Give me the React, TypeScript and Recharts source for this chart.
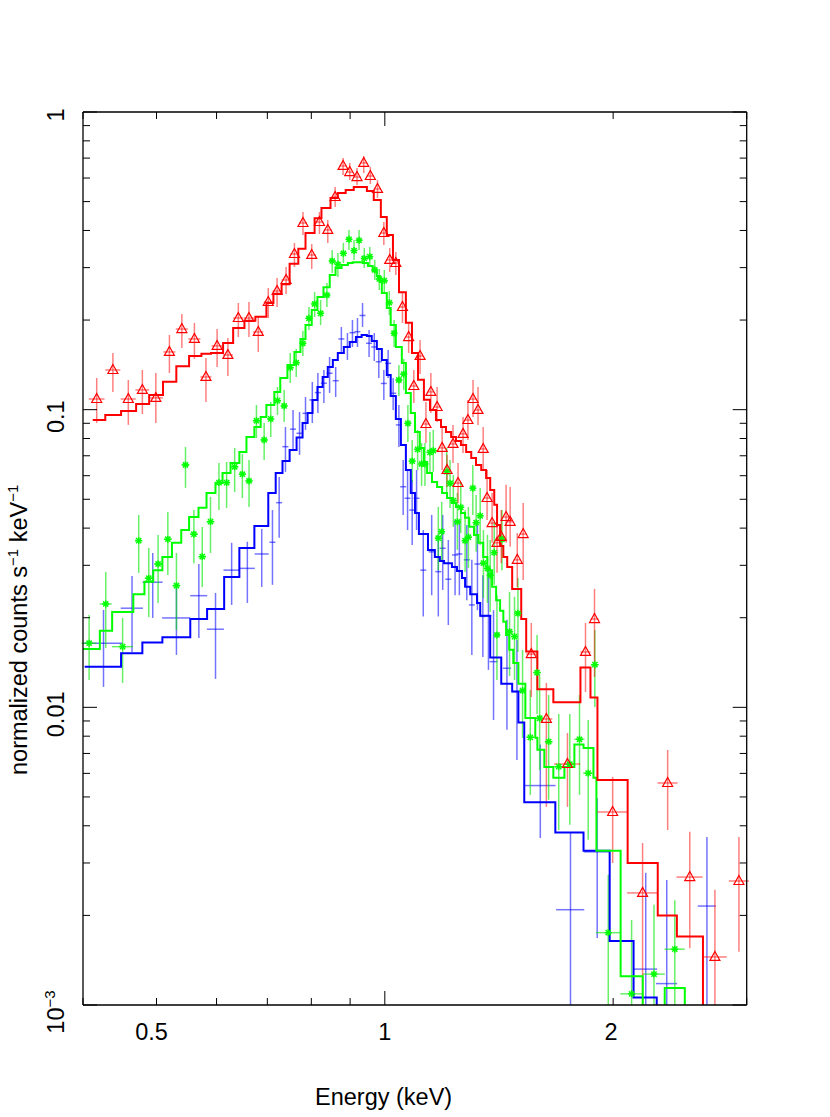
import React from 'react';
import { ComposedChart, Line, Scatter, XAxis, YAxis, ErrorBar, Label } from 'recharts';

// ---------- data ----------
// model step curves: [bin lower edge keV, normalized counts s^-1 keV^-1]
const redModel: [number, number][] = [
  [0.412, 0.0923], [0.428, 0.096], [0.449, 0.099], [0.47, 0.1045], [0.489, 0.112], [0.51, 0.124],
  [0.531, 0.14], [0.552, 0.1515], [0.573, 0.154], [0.59, 0.155], [0.612, 0.1675], [0.631, 0.188],
  [0.653, 0.199], [0.675, 0.205], [0.698, 0.228], [0.713, 0.245], [0.731, 0.264], [0.749, 0.309],
  [0.769, 0.347], [0.786, 0.392], [0.808, 0.44], [0.825, 0.476], [0.848, 0.514], [0.867, 0.534],
  [0.888, 0.547], [0.91, 0.56], [0.932, 0.56], [0.947, 0.543], [0.967, 0.506], [0.988, 0.444],
  [1.006, 0.386], [1.025, 0.318], [1.044, 0.248], [1.066, 0.196], [1.086, 0.155], [1.106, 0.126],
  [1.126, 0.108], [1.147, 0.0998], [1.168, 0.0923], [1.186, 0.0874], [1.204, 0.0842], [1.223, 0.081],
  [1.241, 0.0785], [1.26, 0.0761], [1.28, 0.0721], [1.3, 0.0688], [1.319, 0.0652], [1.34, 0.0627],
  [1.36, 0.059], [1.377, 0.0537], [1.394, 0.0479], [1.406, 0.041], [1.419, 0.0348], [1.433, 0.032],
  [1.45, 0.0296], [1.472, 0.025], [1.513, 0.0198], [1.536, 0.0154], [1.589, 0.0115], [1.668, 0.0104],
  [1.811, 0.0136], [1.867, 0.0108], [1.907, 0.0057], [2.09, 0.003], [2.29, 0.002], [2.427, 0.0017],
  [2.627, 0.0004], [3.0, 0.0004],
];

const greenModel: [number, number][] = [
  [0.4, 0.0157], [0.421, 0.0181], [0.437, 0.0209], [0.466, 0.024], [0.482, 0.0264], [0.495, 0.0289],
  [0.509, 0.032], [0.524, 0.0357], [0.539, 0.0394], [0.552, 0.0436], [0.568, 0.0468], [0.582, 0.0525],
  [0.598, 0.0567], [0.611, 0.0613], [0.626, 0.0662], [0.643, 0.0721], [0.657, 0.081], [0.673, 0.0875],
  [0.686, 0.0945], [0.698, 0.1037], [0.715, 0.1147], [0.728, 0.1278], [0.744, 0.1413], [0.76, 0.1563],
  [0.774, 0.1728], [0.786, 0.1925], [0.801, 0.2162], [0.815, 0.239], [0.83, 0.258], [0.846, 0.2835],
  [0.861, 0.299], [0.877, 0.306], [0.894, 0.311], [0.907, 0.313], [0.924, 0.313], [0.935, 0.311],
  [0.95, 0.304], [0.964, 0.292], [0.976, 0.281], [0.985, 0.2685], [0.991, 0.2466], [1.006, 0.2196],
  [1.018, 0.1925], [1.034, 0.1624], [1.053, 0.1435], [1.066, 0.1138], [1.082, 0.0975], [1.096, 0.0842],
  [1.112, 0.0744], [1.126, 0.0667], [1.137, 0.0613], [1.154, 0.0572], [1.172, 0.055], [1.19, 0.0525],
  [1.208, 0.0505], [1.226, 0.0486], [1.241, 0.0471], [1.26, 0.045], [1.276, 0.0433], [1.292, 0.0404],
  [1.311, 0.0379], [1.328, 0.0357], [1.348, 0.032], [1.365, 0.0289], [1.385, 0.0254], [1.402, 0.0229],
  [1.419, 0.0211], [1.433, 0.0194], [1.445, 0.0175], [1.459, 0.0156], [1.477, 0.0141], [1.5, 0.012],
  [1.532, 0.0092], [1.579, 0.0079], [1.589, 0.0072], [1.623, 0.0063], [1.668, 0.0058], [1.725, 0.0063],
  [1.778, 0.0075], [1.828, 0.0073], [1.884, 0.0058], [1.901, 0.0033], [2.046, 0.00125], [2.188, 0.0008],
  [2.339, 0.00114], [2.486, 0.0008], [3.0, 0.0008],
];

const blueModel: [number, number][] = [
  [0.402, 0.0137], [0.449, 0.0152], [0.479, 0.0165], [0.509, 0.0172], [0.554, 0.0198], [0.583, 0.0214],
  [0.614, 0.0274], [0.643, 0.0343], [0.673, 0.0407], [0.702, 0.0525], [0.718, 0.0613], [0.733, 0.0672],
  [0.749, 0.0732], [0.765, 0.0806], [0.779, 0.0902], [0.791, 0.0975], [0.803, 0.1078], [0.815, 0.1192],
  [0.828, 0.1288], [0.841, 0.1391], [0.854, 0.1469], [0.867, 0.155], [0.883, 0.1624], [0.899, 0.1688],
  [0.916, 0.1754], [0.932, 0.1782], [0.947, 0.1768], [0.961, 0.1701], [0.976, 0.1599], [0.991, 0.1469],
  [1.006, 0.1308], [1.018, 0.1112], [1.034, 0.093], [1.05, 0.0761], [1.066, 0.0627], [1.082, 0.0525],
  [1.096, 0.045], [1.109, 0.0382], [1.14, 0.0338], [1.164, 0.032], [1.182, 0.031], [1.197, 0.0305],
  [1.226, 0.0296], [1.245, 0.0287], [1.264, 0.0272], [1.276, 0.0254], [1.296, 0.024], [1.323, 0.0224],
  [1.336, 0.0203], [1.377, 0.0147], [1.424, 0.012], [1.472, 0.0113], [1.5, 0.0089], [1.527, 0.0048],
  [1.678, 0.0038], [1.828, 0.0033], [1.979, 0.00164], [2.128, 0.00106], [2.283, 0.0005], [3.0, 0.0005],
];

// data points: [energy keV, half bin width keV, value, upper bound, lower bound]
const redPoints: [number, number, number, number, number][] = [
  [0.417, 0.01, 0.1086, 0.1278, 0.0902], [0.438, 0.01, 0.1359, 0.155, 0.1147],
  [0.459, 0.0105, 0.1086, 0.1258, 0.0889], [0.479, 0.01, 0.1165, 0.1359, 0.0967],
  [0.499, 0.0107, 0.1095, 0.1328, 0.0902], [0.52, 0.0095, 0.1563, 0.1782, 0.1328],
  [0.54, 0.0099, 0.1866, 0.2097, 0.1612], [0.561, 0.0103, 0.1728, 0.1956, 0.1481],
  [0.581, 0.0097, 0.1288, 0.1492, 0.1061], [0.601, 0.01, 0.1637, 0.1866, 0.1391],
  [0.621, 0.0095, 0.1527, 0.1741, 0.1298], [0.641, 0.0098, 0.2032, 0.2282, 0.1754],
  [0.662, 0.01, 0.2032, 0.23, 0.1754], [0.681, 0.0104, 0.1824, 0.2048, 0.1563],
  [0.702, 0.0096, 0.23, 0.2564, 0.2032], [0.721, 0.0099, 0.2504, 0.2769, 0.2213],
  [0.741, 0.0102, 0.2727, 0.3015, 0.2446], [0.76, 0.0093, 0.3334, 0.363, 0.3015],
  [0.78, 0.0095, 0.4238, 0.4613, 0.3862], [0.801, 0.0098, 0.3309, 0.3602, 0.2969],
  [0.82, 0.01, 0.4271, 0.4613, 0.3893], [0.841, 0.0103, 0.4015, 0.4337, 0.363],
  [0.86, 0.0092, 0.5181, 0.56, 0.4797], [0.881, 0.0094, 0.6588, 0.7006, 0.6142],
  [0.899, 0.0096, 0.6285, 0.6743, 0.5908], [0.919, 0.0098, 0.6047, 0.6482, 0.5686],
  [0.938, 0.01, 0.6743, 0.7115, 0.6236], [0.957, 0.0102, 0.6095, 0.6532, 0.573],
  [0.978, 0.0104, 0.5514, 0.5908, 0.5143], [0.997, 0.009, 0.3922, 0.4271, 0.3574],
  [1.015, 0.0093, 0.3184, 0.3492, 0.2901], [1.034, 0.0095, 0.311, 0.3386, 0.2835],
  [1.055, 0.0097, 0.2213, 0.2466, 0.1956], [1.075, 0.0098, 0.1754, 0.1971, 0.155],
  [1.092, 0.01, 0.1201, 0.1359, 0.1053], [1.113, 0.01, 0.1515, 0.1714, 0.1318],
  [1.133, 0.0104, 0.0895, 0.1061, 0.0773], [1.15, 0.0105, 0.1147, 0.1328, 0.0975],
  [1.172, 0.0107, 0.1021, 0.1192, 0.0909], [1.19, 0.0109, 0.0744, 0.0868, 0.0627],
  [1.208, 0.011, 0.0627, 0.0705, 0.055], [1.23, 0.0113, 0.0767, 0.0889, 0.0662],
  [1.249, 0.0114, 0.0567, 0.0662, 0.0486], [1.268, 0.0116, 0.0829, 0.0945, 0.0715],
  [1.287, 0.0118, 0.0923, 0.1078, 0.0791], [1.307, 0.012, 0.1086, 0.1258, 0.0945],
  [1.327, 0.0121, 0.0998, 0.1192, 0.0889], [1.348, 0.0123, 0.0738, 0.0875, 0.0627],
  [1.364, 0.0125, 0.0505, 0.0627, 0.0426], [1.385, 0.0127, 0.0416, 0.0525, 0.0357],
  [1.406, 0.0129, 0.0357, 0.0426, 0.0283], [1.424, 0.013, 0.0374, 0.046, 0.0305],
  [1.445, 0.0132, 0.0436, 0.0559, 0.0357], [1.463, 0.0134, 0.042, 0.055, 0.0346],
  [1.495, 0.016, 0.0313, 0.0385, 0.0254], [1.522, 0.0163, 0.0382, 0.0486, 0.0268],
  [1.56, 0.024, 0.0151, 0.0192, 0.01083], [1.633, 0.03, 0.00914, 0.01208, 0.00463],
  [1.741, 0.069, 0.00645, 0.0082, 0.00463], [1.839, 0.028, 0.01535, 0.0192, 0.01126],
  [1.89, 0.023, 0.0198, 0.025, 0.01265], [1.997, 0.091, 0.00445, 0.00584, 0.003],
  [2.187, 0.1, 0.00238, 0.0035, 0.001], [2.36, 0.072, 0.00557, 0.00719, 0.00387],
  [2.524, 0.1, 0.00269, 0.00382, 0.00155], [2.724, 0.1, 0.00145, 0.00244, 0.001],
  [2.93, 0.089, 0.00261, 0.00367, 0.00151],
];

const greenPoints: [number, number, number, number, number][] = [
  [0.4075, 0.0093, 0.01642, 0.02043, 0.01236], [0.4286, 0.0078, 0.02225, 0.0285, 0.01583],
  [0.4511, 0.0144, 0.01599, 0.01997, 0.01208], [0.4737, 0.0051, 0.03631, 0.04428, 0.02828],
  [0.4884, 0.006, 0.02715, 0.0343, 0.02012], [0.5024, 0.0061, 0.03031, 0.03795, 0.02243],
  [0.5175, 0.0063, 0.03671, 0.04532, 0.02784], [0.5312, 0.0065, 0.02564, 0.033, 0.0182],
  [0.546, 0.0067, 0.0652, 0.0749, 0.0546], [0.5601, 0.0068, 0.03815, 0.046, 0.0305],
  [0.5745, 0.007, 0.03208, 0.04036, 0.02538], [0.5891, 0.0072, 0.04205, 0.0509, 0.033],
  [0.6044, 0.0064, 0.0569, 0.0662, 0.046], [0.6186, 0.0066, 0.0569, 0.0667, 0.04675],
  [0.6339, 0.0068, 0.0643, 0.0744, 0.0529], [0.6489, 0.0069, 0.0607, 0.071, 0.0505],
  [0.6622, 0.0071, 0.0576, 0.0678, 0.0471], [0.6772, 0.0072, 0.0918, 0.1037, 0.0803],
  [0.6933, 0.0074, 0.0791, 0.0902, 0.0678], [0.7073, 0.0065, 0.0931, 0.1061, 0.081],
  [0.7219, 0.0066, 0.1072, 0.1192, 0.096], [0.7367, 0.0067, 0.1029, 0.1165, 0.0909],
  [0.7504, 0.0069, 0.1384, 0.155, 0.1229], [0.7642, 0.007, 0.1438, 0.16, 0.1288],
  [0.7797, 0.0071, 0.1671, 0.1838, 0.1515], [0.7942, 0.0073, 0.2028, 0.2213, 0.1852],
  [0.8081, 0.0074, 0.2265, 0.2484, 0.2048], [0.8229, 0.0075, 0.2108, 0.2336, 0.1925],
  [0.8388, 0.0077, 0.2427, 0.2664, 0.2213], [0.8523, 0.0078, 0.3159, 0.3439, 0.2878],
  [0.8673, 0.0079, 0.3079, 0.336, 0.2791], [0.8817, 0.0081, 0.3352, 0.363, 0.311],
  [0.8969, 0.0082, 0.3736, 0.4015, 0.3439], [0.9108, 0.0083, 0.3425, 0.3715, 0.3184],
  [0.9248, 0.0085, 0.3707, 0.4015, 0.3439], [0.9395, 0.0086, 0.3221, 0.3492, 0.2992],
  [0.9554, 0.0087, 0.3266, 0.3519, 0.3015], [0.97, 0.0089, 0.2946, 0.3184, 0.2727],
  [0.9834, 0.009, 0.2748, 0.2969, 0.2524], [0.9985, 0.0091, 0.2712, 0.2946, 0.2484],
  [1.0138, 0.0093, 0.2287, 0.2504, 0.208], [1.0285, 0.0094, 0.1806, 0.2001, 0.1624],
  [1.0436, 0.0095, 0.1258, 0.1413, 0.1112], [1.059, 0.0097, 0.1316, 0.1481, 0.1165],
  [1.0725, 0.0098, 0.09, 0.1037, 0.0779], [1.0866, 0.0099, 0.0672, 0.0791, 0.0572],
  [1.1047, 0.0101, 0.0736, 0.0855, 0.0627], [1.1181, 0.0102, 0.0657, 0.0773, 0.0554],
  [1.1296, 0.0103, 0.0657, 0.0773, 0.0554], [1.1468, 0.0105, 0.0719, 0.0842, 0.0613],
  [1.1585, 0.0106, 0.0728, 0.0855, 0.0618], [1.1763, 0.0108, 0.037, 0.0471, 0.0289],
  [1.1885, 0.0109, 0.0389, 0.049, 0.0308], [1.2067, 0.011, 0.0619, 0.0744, 0.0517],
  [1.219, 0.0112, 0.0566, 0.0678, 0.04675], [1.2312, 0.0113, 0.0495, 0.0603, 0.0404],
  [1.2464, 0.0114, 0.042, 0.0525, 0.0338], [1.2593, 0.0115, 0.047, 0.0572, 0.0385],
  [1.276, 0.0117, 0.0363, 0.046, 0.0285], [1.2889, 0.0118, 0.0373, 0.0471, 0.0294],
  [1.3062, 0.012, 0.0545, 0.0652, 0.0443], [1.3195, 0.0121, 0.0417, 0.0517, 0.0333],
  [1.3357, 0.0122, 0.044, 0.0546, 0.0351], [1.349, 0.0123, 0.0305, 0.0394, 0.0233],
  [1.3656, 0.0125, 0.0293, 0.03795, 0.02243], [1.377, 0.0126, 0.0278, 0.0365, 0.0209],
  [1.3939, 0.0128, 0.0331, 0.042, 0.0258], [1.427, 0.013, 0.0367, 0.046, 0.0289],
  [1.4055, 0.0129, 0.0175, 0.0238, 0.01236], [1.4603, 0.0134, 0.01796, 0.0244, 0.01275],
  [1.4825, 0.0136, 0.01728, 0.0235, 0.01236], [1.498, 0.0137, 0.0207, 0.0272, 0.01535],
  [1.5192, 0.0162, 0.01138, 0.01559, 0.00789], [1.5553, 0.019, 0.00793, 0.01144, 0.00508],
  [1.5875, 0.0194, 0.01308, 0.0175, 0.0095], [1.6, 0.0195, 0.00919, 0.01285, 0.00616],
  [1.6444, 0.02, 0.00767, 0.011, 0.00489], [1.6955, 0.0259, 0.00632, 0.0095, 0.00387],
  [1.7534, 0.0267, 0.00644, 0.0095, 0.00403], [1.8059, 0.0275, 0.00781, 0.011, 0.00508],
  [1.8542, 0.0283, 0.00601, 0.00907, 0.00359], [1.8918, 0.023, 0.01391, 0.0182, 0.01003],
  [1.9706, 0.072, 0.00175, 0.00274, 0.001], [2.1153, 0.071, 0.00109, 0.00193, 0.001],
  [2.264, 0.076, 0.00127, 0.00217, 0.001], [2.4117, 0.074, 0.00154, 0.00225, 0.001],
];

const bluePoints: [number, number, number, number, number][] = [
  [0.4257, 0.0247, 0.01642, 0.02124, 0.01171], [0.4642, 0.0156, 0.02153, 0.02763, 0.01535],
  [0.4943, 0.0151, 0.02632, 0.033, 0.01997], [0.5312, 0.0227, 0.01997, 0.02618, 0.015],
  [0.5686, 0.0147, 0.02372, 0.0303, 0.0171], [0.5981, 0.0155, 0.0183, 0.02423, 0.01246],
  [0.6281, 0.0153, 0.0289, 0.0357, 0.02208], [0.6588, 0.0151, 0.0293, 0.036, 0.02243],
  [0.6882, 0.0147, 0.03275, 0.03975, 0.02538], [0.711, 0.0065, 0.03585, 0.046, 0.0258],
  [0.7256, 0.0066, 0.0487, 0.0594, 0.0371], [0.7396, 0.0068, 0.0751, 0.0875, 0.0618],
  [0.7568, 0.0069, 0.086, 0.0998, 0.0732], [0.7719, 0.0071, 0.0833, 0.0982, 0.0705],
  [0.786, 0.0072, 0.0972, 0.1103, 0.0855], [0.8024, 0.0073, 0.1078, 0.1239, 0.0902],
  [0.8161, 0.0075, 0.1141, 0.1328, 0.0975], [0.8311, 0.0076, 0.1227, 0.1359, 0.1053],
  [0.8456, 0.0077, 0.1325, 0.1503, 0.1138], [0.8614, 0.0079, 0.1251, 0.1391, 0.1103],
  [0.8764, 0.008, 0.1728, 0.1896, 0.155], [0.8927, 0.0082, 0.1628, 0.181, 0.1469],
  [0.9064, 0.0083, 0.1814, 0.2001, 0.1624], [0.9203, 0.0084, 0.1828, 0.2032, 0.1624],
  [0.9346, 0.0086, 0.2072, 0.2282, 0.1896], [0.9533, 0.0087, 0.1671, 0.1852, 0.1503],
  [0.9685, 0.0089, 0.1624, 0.181, 0.1457], [0.9819, 0.009, 0.1449, 0.1612, 0.1278],
  [0.997, 0.0091, 0.1225, 0.1359, 0.1078], [1.0101, 0.0092, 0.1431, 0.1587, 0.1278],
  [1.0256, 0.0094, 0.1135, 0.1278, 0.0998], [1.0436, 0.0095, 0.0889, 0.1037, 0.0749],
  [1.0573, 0.0097, 0.0551, 0.0678, 0.0443], [1.0715, 0.0098, 0.0504, 0.0627, 0.0394],
  [1.0866, 0.0099, 0.046, 0.058, 0.0351], [1.1012, 0.0101, 0.0504, 0.0627, 0.0394],
  [1.1238, 0.0103, 0.0289, 0.0394, 0.0202], [1.1529, 0.0105, 0.0333, 0.0443, 0.0238],
  [1.1763, 0.0108, 0.02856, 0.038, 0.0202], [1.1921, 0.0109, 0.03423, 0.0443, 0.0248],
  [1.2126, 0.0111, 0.02694, 0.0365, 0.0189], [1.2377, 0.0113, 0.0325, 0.0426, 0.0238],
  [1.254, 0.0115, 0.03275, 0.0426, 0.0238], [1.2826, 0.0117, 0.0313, 0.041, 0.0229],
  [1.3023, 0.0119, 0.02208, 0.0313, 0.015], [1.3247, 0.0121, 0.0303, 0.041, 0.0212],
  [1.3466, 0.0123, 0.0202, 0.0278, 0.01477], [1.3697, 0.0125, 0.0203, 0.0289, 0.01336],
  [1.391, 0.017, 0.01424, 0.0212, 0.00907], [1.4488, 0.0177, 0.01353, 0.0197, 0.0084],
  [1.4935, 0.0228, 0.01129, 0.01684, 0.00666], [1.6032, 0.0758, 0.00546, 0.0075, 0.00364],
  [1.7571, 0.075, 0.00209, 0.00378, 0.001], [1.9055, 0.0756, 0.00327, 0.00496, 0.00168],
  [2.208, 0.0775, 0.00132, 0.00278, 0.001], [2.3535, 0.0754, 0.00118, 0.00263, 0.001],
  [2.6588, 0.073, 0.00215, 0.00367, 0.001],
];

const xTicks = [0.4, 0.5, 0.6, 0.7, 0.8, 0.9, 1, 2, 3];
const xTickLabels: Record<string, string> = { '0.5': '0.5', '1': '1', '2': '2' };
const yTicks = [
  0.001, 0.002, 0.003, 0.004, 0.005, 0.006, 0.007, 0.008, 0.009,
  0.01, 0.02, 0.03, 0.04, 0.05, 0.06, 0.07, 0.08, 0.09,
  0.1, 0.2, 0.3, 0.4, 0.5, 0.6, 0.7, 0.8, 0.9, 1,
];
const yTickLabels: Record<string, string> = { '0.01': '0.01', '0.1': '0.1', '1': '1' };
const yDecades = [0.001, 0.01, 0.1, 1];
const xDecades = [1];

// ---------- style ----------
const FONT = "'Liberation Sans', Arial, Helvetica, sans-serif";
const RED = '#ff0000';
const GREEN = '#00ff00';
const BLUE = '#0000ff';
const xLabelShift: Record<string, number> = { '0.5': -5, '1': 0, '2': -2 };

const toModel = (arr: [number, number][]) => arr.map(([e, v]) => ({ e, v }));
const toPoints = (arr: [number, number, number, number, number][]) =>
  arr.map(([e, de, v, hi, lo]) => ({ e, v, ex: de, ey: [v - lo, hi - v] }));

const BottomTick = (p: any) => {
  const { x, y, payload } = p;
  const v = payload.value;
  const len = xDecades.includes(v) ? 14 : 7;
  const t = xTickLabels[String(v)];
  return (
    <g>
      <line x1={x} x2={x} y1={y} y2={y - len} stroke="#000" strokeWidth={1} />
      {t ? (
        <text x={x + (xLabelShift[String(v)] || 0)} y={y + 35} textAnchor="middle" fontFamily={FONT} fontSize={23.5} fill="#000">
          {t}
        </text>
      ) : null}
    </g>
  );
};

const TopTick = (p: any) => {
  const { x, y, payload } = p;
  const len = xDecades.includes(payload.value) ? 14 : 7;
  return <line x1={x} x2={x} y1={y} y2={y + len} stroke="#000" strokeWidth={1} />;
};

const LeftTick = (p: any) => {
  const { x, y, payload } = p;
  const v = payload.value;
  const major = yDecades.includes(v);
  const len = major ? 14 : 7;
  const t = yTickLabels[String(v)];
  const cy = y + (v === 1 ? 3 : 7);
  const lx = 64;
  return (
    <g>
      <line x1={x} x2={x + len} y1={y} y2={y} stroke="#000" strokeWidth={1} />
      {t ? (
        <text x={lx} y={cy} transform={`rotate(-90 ${lx} ${cy})`} textAnchor="middle" fontFamily={FONT} fontSize={23.5} fill="#000">
          {t}
        </text>
      ) : null}
      {v === 0.001 ? (
        <text x={lx} y={cy} transform={`rotate(-90 ${lx} ${cy})`} textAnchor="middle" fontFamily={FONT} fontSize={23.5} fill="#000">
          <tspan>10</tspan>
          <tspan fontSize={15} dy={-9}>−3</tspan>
        </text>
      ) : null}
    </g>
  );
};

const RightTick = (p: any) => {
  const { x, y, payload } = p;
  const len = yDecades.includes(payload.value) ? 14 : 7;
  return <line x1={x} x2={x - len} y1={y} y2={y} stroke="#000" strokeWidth={1} />;
};

const Triangle = (p: any) => {
  const { cx, cy } = p;
  if (cx == null || cy == null || isNaN(cx) || isNaN(cy)) return <g />;
  return (
    <path
      d={`M${cx},${cy - 5.5} L${cx + 5},${cy + 3.5} L${cx - 5},${cy + 3.5} Z`}
      fill="none"
      stroke={RED}
      strokeWidth={1.2}
    />
  );
};

const Asterisk = (p: any) => {
  const { cx, cy } = p;
  if (cx == null || cy == null || isNaN(cx) || isNaN(cy)) return <g />;
  const r = 3.5;
  const d = 2.6;
  return (
    <g stroke={GREEN} strokeWidth={1.5}>
      <line x1={cx - r} x2={cx + r} y1={cy} y2={cy} />
      <line x1={cx} x2={cx} y1={cy - r} y2={cy + r} />
      <line x1={cx - d} x2={cx + d} y1={cy - d} y2={cy + d} />
      <line x1={cx - d} x2={cx + d} y1={cy + d} y2={cy - d} />
    </g>
  );
};

const NoMark = () => <g />;

const XTitle = () => (
  <text x={315} y={1105} fontFamily={FONT} fontSize={23.5} fill="#000">
    Energy (keV)
  </text>
);

const YTitle = () => (
  <text x={27} y={775} transform="rotate(-90 27 775)" fontFamily={FONT} fontSize={23.5} fill="#000">
    <tspan>normalized counts s</tspan>
    <tspan fontSize={15} dy={-9}>−1</tspan>
    <tspan dy={9}> keV</tspan>
    <tspan fontSize={15} dy={-9}>−1</tspan>
  </text>
);

export default function App() {
  const series = [
    { pts: toPoints(bluePoints), model: toModel(blueModel), color: BLUE, bar: 'rgba(0,0,255,0.55)', shape: NoMark, key: 'b' },
    { pts: toPoints(greenPoints), model: toModel(greenModel), color: GREEN, bar: 'rgba(0,230,0,0.6)', shape: Asterisk, key: 'g' },
    { pts: toPoints(redPoints), model: toModel(redModel), color: RED, bar: 'rgba(255,0,0,0.5)', shape: Triangle, key: 'r' },
  ];
  return (
    <div style={{ position: 'absolute', left: 0, top: 0, width: 830, height: 1117, background: '#fff' }}>
      <ComposedChart width={830} height={1117} margin={{ top: 72, right: 43.3, bottom: 72, left: 43 }}>
        <XAxis
          xAxisId="b"
          dataKey="e"
          type="number"
          scale="log"
          domain={[0.4, 3]}
          allowDataOverflow
          ticks={xTicks}
          interval={0}
          orientation="bottom"
          height={40}
          tickSize={0}
          tickMargin={0}
          tickLine={false}
          tick={<BottomTick />}
          axisLine={{ stroke: '#000', strokeWidth: 1.3 }}
        >
          <Label content={<XTitle />} />
        </XAxis>
        <XAxis
          xAxisId="t"
          dataKey="e"
          type="number"
          scale="log"
          domain={[0.4, 3]}
          allowDataOverflow
          ticks={xTicks}
          interval={0}
          orientation="top"
          height={40}
          tickSize={0}
          tickMargin={0}
          tickLine={false}
          tick={<TopTick />}
          axisLine={{ stroke: '#000', strokeWidth: 1.3 }}
        />
        <YAxis
          yAxisId="l"
          dataKey="v"
          type="number"
          scale="log"
          domain={[0.001, 1]}
          allowDataOverflow
          ticks={yTicks}
          interval={0}
          orientation="left"
          width={40}
          tickSize={0}
          tickMargin={0}
          tickLine={false}
          tick={<LeftTick />}
          axisLine={{ stroke: '#000', strokeWidth: 1.3 }}
        >
          <Label content={<YTitle />} />
        </YAxis>
        <YAxis
          yAxisId="r"
          dataKey="v"
          type="number"
          scale="log"
          domain={[0.001, 1]}
          allowDataOverflow
          ticks={yTicks}
          interval={0}
          orientation="right"
          width={40}
          tickSize={0}
          tickMargin={0}
          tickLine={false}
          tick={<RightTick />}
          axisLine={{ stroke: '#000', strokeWidth: 1.3 }}
        />
        {series.map((s) => (
          <Scatter
            key={'s' + s.key}
            xAxisId="b"
            yAxisId="l"
            data={s.pts}
            dataKey="v"
            shape={s.shape}
            isAnimationActive={false}
          >
            <ErrorBar dataKey="ey" direction="y" width={0} stroke={s.bar} strokeWidth={1.5} isAnimationActive={false} />
            <ErrorBar dataKey="ex" direction="x" width={0} stroke={s.bar} strokeWidth={1.5} isAnimationActive={false} />
          </Scatter>
        ))}
        {series.map((s) => (
          <Line
            key={'l' + s.key}
            xAxisId="b"
            yAxisId="l"
            data={s.model}
            dataKey="v"
            type="stepAfter"
            stroke={s.color}
            strokeWidth={2}
            dot={false}
            activeDot={false}
            isAnimationActive={false}
          />
        ))}
      </ComposedChart>
    </div>
  );
}
